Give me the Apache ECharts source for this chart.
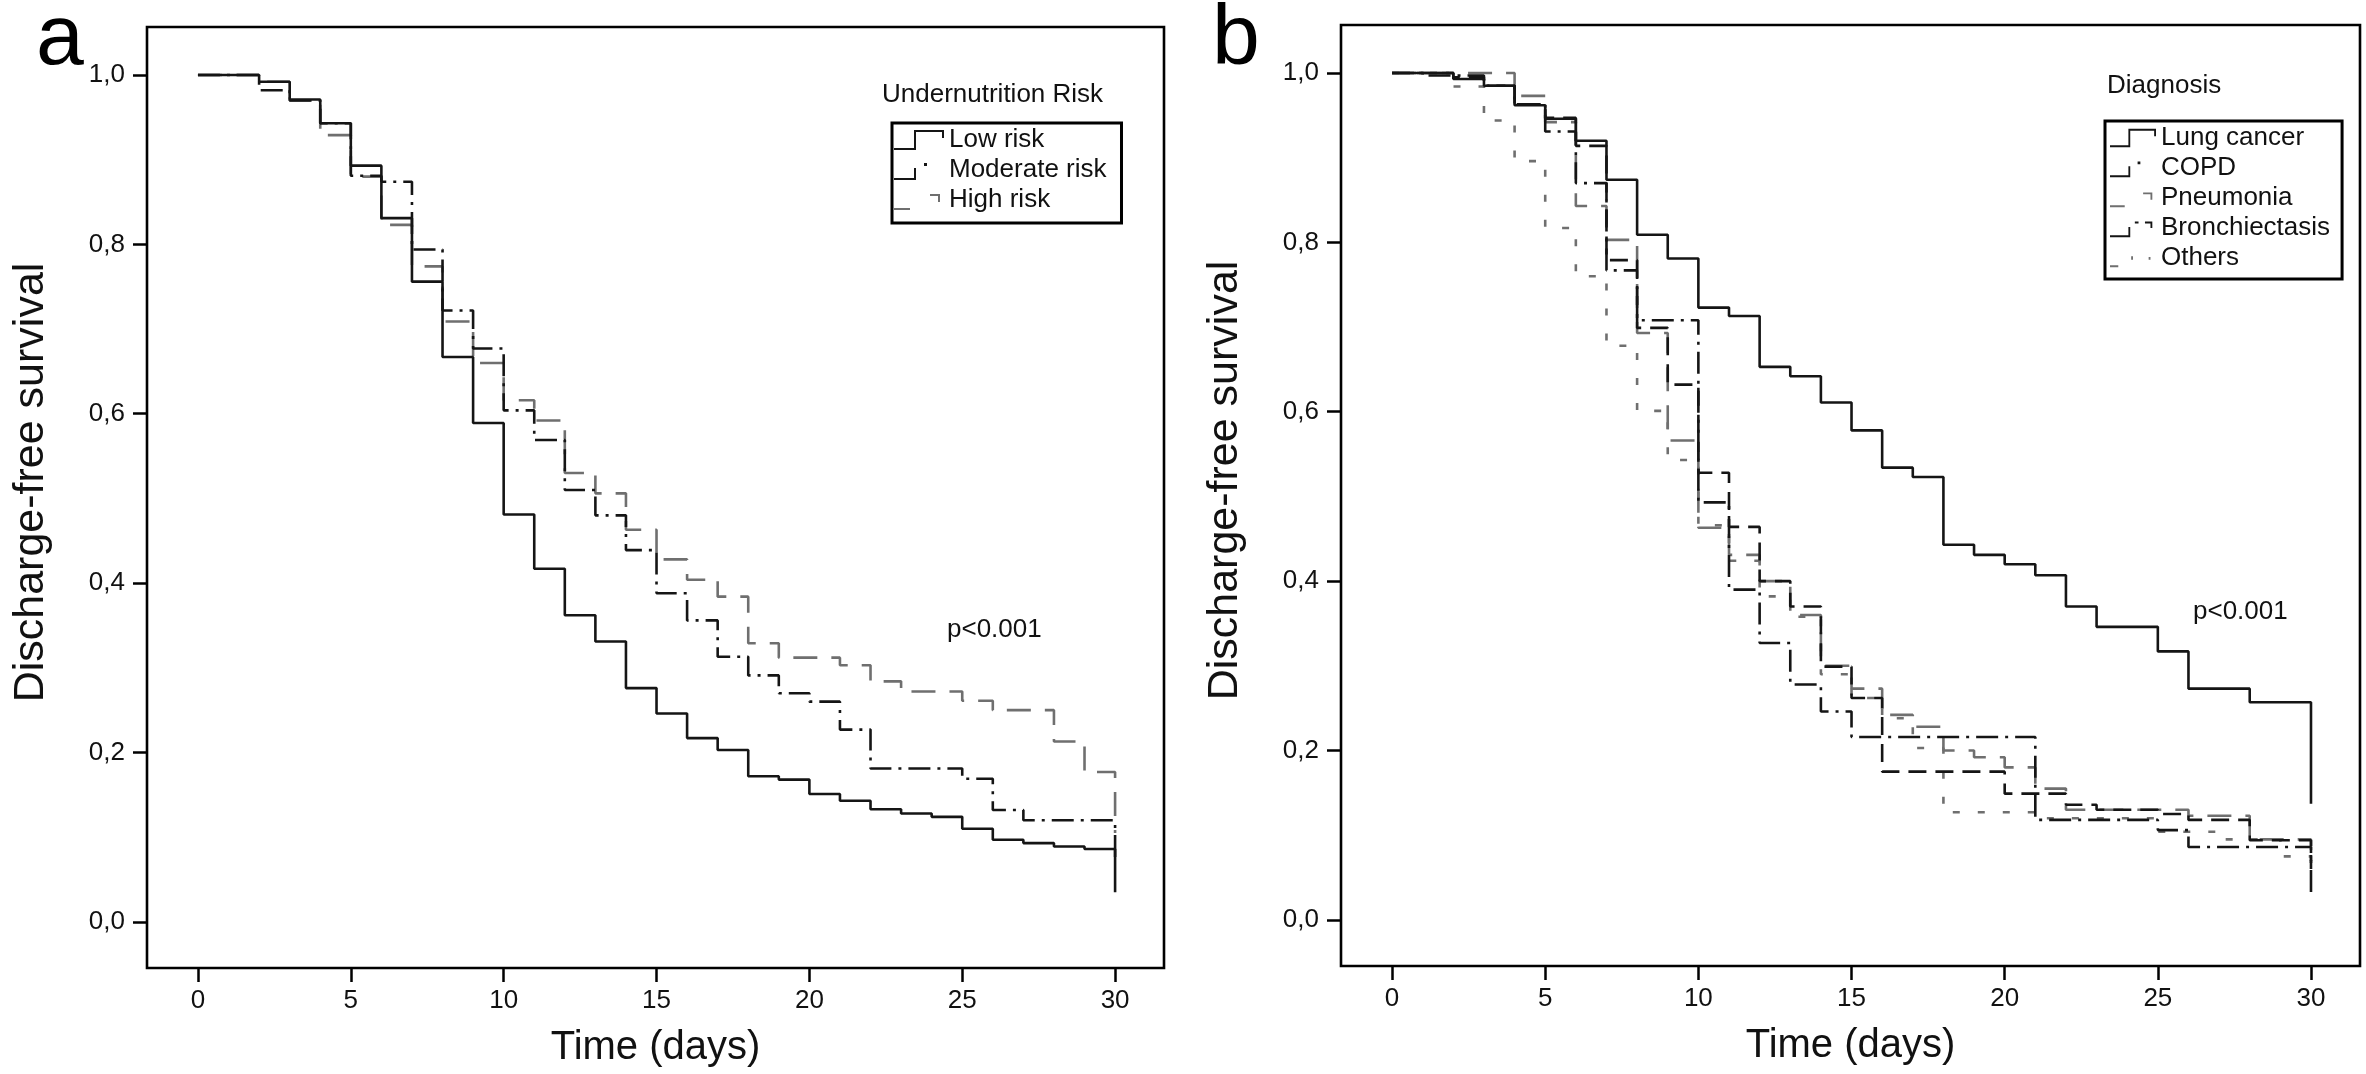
<!DOCTYPE html>
<html>
<head>
<meta charset="utf-8">
<script src="https://cdn.jsdelivr.net/npm/echarts@6/dist/echarts.min.js"></script>
<style>
html,body{margin:0;padding:0;background:#fff;}
#chart{width:2366px;height:1074px;}
</style>
</head>
<body>
<div id="chart"></div>
<script>
// ---------- tick labels ----------
const xTicks = [0, 5, 10, 15, 20, 25, 30];
const yTicks = [0, 0.2, 0.4, 0.6, 0.8, 1.0];

// ---------- panel a: Undernutrition Risk ----------
const riskNames = ['Low risk', 'Moderate risk', 'High risk'];
const dayLow = [0,2,3,4,5,6,7,8,9,10,11,12,13,14,15,16,17,18,19,20,21,22,23,24,25,26,27,28,29,30];
const survLow = [1,0.992,0.971,0.943,0.893,0.831,0.756,0.667,0.589,0.481,0.417,0.362,0.331,0.276,0.246,0.217,0.203,0.172,0.168,0.151,0.143,0.133,0.128,0.124,0.110,0.097,0.093,0.089,0.086,0.035];
const dayModerate = [0,2,3,4,5,6,7,8,9,10,11,12,13,14,15,16,17,18,19,20,21,22,25,26,27,30];
const survModerate = [1,0.982,0.970,0.943,0.881,0.874,0.794,0.722,0.677,0.604,0.569,0.510,0.480,0.439,0.388,0.356,0.313,0.291,0.270,0.260,0.227,0.181,0.169,0.132,0.120,0.070];
const dayHigh = [0,2,3,4,5,6,7,8,9,10,11,12,13,14,15,16,17,18,19,21,22,23,25,26,28,29,30];
const survHigh = [1,0.992,0.970,0.929,0.880,0.823,0.774,0.709,0.660,0.616,0.592,0.530,0.506,0.463,0.428,0.404,0.384,0.329,0.312,0.303,0.284,0.272,0.261,0.250,0.213,0.177,0.105];

// ---------- panel b: Diagnosis ----------
const diagNames = ['Lung cancer', 'COPD', 'Pneumonia', 'Bronchiectasis', 'Others'];
const dayLung = [0,2,3,4,5,6,7,8,9,10,11,12,13,14,15,16,17,18,19,20,21,22,23,25,26,28,30];
const survLung = [1,0.993,0.985,0.962,0.946,0.920,0.874,0.809,0.781,0.723,0.713,0.653,0.642,0.611,0.578,0.534,0.523,0.443,0.431,0.420,0.407,0.370,0.346,0.317,0.273,0.257,0.137];
const dayCopd = [0,1,3,4,5,6,7,8,10,11,12,13,14,15,21,25,26,30];
const survCopd = [1,0.997,0.985,0.963,0.931,0.870,0.767,0.708,0.493,0.390,0.327,0.278,0.246,0.216,0.118,0.106,0.086,0.026];
const dayPneumonia = [0,4,5,6,7,8,9,10,11,12,13,14,15,16,17,18,19,20,21,22,26,28,30];
const survPneumonia = [1,0.973,0.942,0.843,0.803,0.693,0.566,0.463,0.431,0.400,0.360,0.300,0.273,0.242,0.228,0.200,0.192,0.180,0.155,0.130,0.123,0.095,0.080];
const dayBronch = [0,2,3,4,5,6,7,8,9,10,11,12,13,14,15,16,20,22,23,25,26,28,30];
const survBronch = [1,0.995,0.985,0.963,0.947,0.914,0.779,0.699,0.632,0.528,0.464,0.400,0.370,0.299,0.262,0.175,0.149,0.136,0.130,0.125,0.118,0.094,0.060];
const dayOthers = [0,2,3,4,5,6,7,8,9,10,11,12,13,14,15,16,17,18,21,25,27,29,30];
const survOthers = [1,0.984,0.944,0.896,0.817,0.760,0.678,0.601,0.543,0.466,0.424,0.382,0.358,0.290,0.262,0.238,0.203,0.127,0.120,0.104,0.095,0.075,0.060];

// ---------- styling ----------
const FONT = 'Liberation Sans, Arial, Helvetica, sans-serif';
const BLACK = '#151515';
const GRAY = '#6f6f6f';
const DASHDOT = [22, 7, 3, 7];
const LONGDASH = [24, 14];
const MEDDASH = [18, 9];
const SHORTDASH = [7, 18];

// legend icons (step-shaped, SPSS-like); the leading moves fix the icon box to 50x20
const BOX = 'M0,0 M50,20 ';
const iconSolid = 'path://' + BOX + 'M0,18 L20,18 L20,0 L50,0 L50,8 L48,8 L48,2 L22,2 L22,20 L0,20 Z';
const iconDashDot = 'path://' + BOX + 'M0,18 L20,18 L20,8 L22,8 L22,20 L0,20 Z M30,3 L33,3 L33,6 L30,6 Z';
const iconLongDash = 'path://' + BOX + 'M0,18 L16,18 L16,20 L0,20 Z M36,4 L46,4 L46,12 L44,12 L44,6 L36,6 Z';
const iconMedDash = 'path://' + BOX + 'M0,18 L20,18 L20,9 L22,9 L22,20 L0,20 Z M27,3 L31,3 L31,5 L27,5 Z M38,3 L46,3 L46,10 L44,10 L44,5 L38,5 Z';
const iconShortDash = 'path://' + BOX + 'M0,18 L9,18 L9,20 L0,20 Z M23,8 L25,8 L25,12 L23,12 Z M42,9 L44,9 L44,12 L42,12 Z';

function km(days, surv) { return days.map((d, i) => [d, surv[i]]); }
function fmtY(v) { return v.toFixed(1).replace('.', ','); }

function kmSeries(name, days, surv, color, dash, axisIndex, z) {
  return {
    name: name,
    type: 'line',
    step: 'end',
    xAxisIndex: axisIndex,
    yAxisIndex: axisIndex,
    data: km(days, surv),
    symbol: 'none',
    color: color,
    itemStyle: { color: color },
    lineStyle: { color: color, width: 2.6, type: dash, cap: 'butt' },
    z: z,
    silent: true,
    animation: false
  };
}

function xAxisCfg(gridIndex) {
  return {
    type: 'value', gridIndex: gridIndex, position: 'bottom',
    min: -1.667, max: 31.6,
    axisLine: { show: false, onZero: false },
    splitLine: { show: false },
    axisTick: { show: true, inside: false, length: 14, customValues: xTicks, lineStyle: { color: '#000', width: 2.5 } },
    axisLabel: { show: true, customValues: xTicks, margin: 20, fontFamily: FONT, fontSize: 26, color: '#111' },
    name: 'Time (days)', nameLocation: 'middle', nameGap: 60,
    nameTextStyle: { fontFamily: FONT, fontSize: 40, color: '#111' }
  };
}
function yAxisCfg(gridIndex) {
  return {
    type: 'value', gridIndex: gridIndex, position: 'left',
    min: -0.0545, max: 1.0567,
    axisLine: { show: false, onZero: false },
    splitLine: { show: false },
    axisTick: { show: true, inside: false, length: 14, customValues: yTicks, lineStyle: { color: '#000', width: 2.5 } },
    axisLabel: { show: true, customValues: yTicks, margin: 22, formatter: fmtY, fontFamily: FONT, fontSize: 26, color: '#111' },
    name: 'Discharge-free survival', nameLocation: 'middle', nameGap: 94,
    nameTextStyle: { fontFamily: FONT, fontSize: 43, color: '#111', padding: [0, 0, 0, 30] }
  };
}

function legendCfg(names, icons, left, top, itemWidth, padding) {
  return {
    show: true, orient: 'vertical', left: left, top: top,
    data: names.map((n, i) => ({ name: n, icon: icons[i] })),
    itemWidth: itemWidth, itemHeight: 20, itemGap: 0,
    padding: padding,
    borderColor: '#000', borderWidth: 3, backgroundColor: '#fff',
    selectedMode: false,
    itemStyle: { borderWidth: 0 },
    textStyle: { fontFamily: FONT, fontSize: 26, color: '#111', lineHeight: 30 }
  };
}

const chart = echarts.init(document.getElementById('chart'), null, { renderer: 'canvas' });

const option = {
  backgroundColor: '#fff',
  animation: false,
  grid: [
    { left: 147, top: 27, width: 1017, height: 941, show: true, borderColor: '#000', borderWidth: 2.6, backgroundColor: 'transparent', containLabel: false },
    { left: 1341, top: 25, width: 1019, height: 941, show: true, borderColor: '#000', borderWidth: 2.6, backgroundColor: 'transparent', containLabel: false }
  ],
  xAxis: [xAxisCfg(0), xAxisCfg(1)],
  yAxis: [yAxisCfg(0), yAxisCfg(1)],
  legend: [
    legendCfg(riskNames, [iconSolid, iconDashDot, iconLongDash], 892, 123, 50, [2, 15, 8, 2]),
    legendCfg(diagNames, [iconSolid, iconDashDot, iconLongDash, iconMedDash, iconShortDash], 2105, 121, 46, [2, 12, 6, 5])
  ],
  series: [
    kmSeries(riskNames[2], dayHigh, survHigh, GRAY, LONGDASH, 0, 2),
    kmSeries(riskNames[1], dayModerate, survModerate, BLACK, DASHDOT, 0, 3),
    kmSeries(riskNames[0], dayLow, survLow, BLACK, 'solid', 0, 4),
    kmSeries(diagNames[4], dayOthers, survOthers, GRAY, SHORTDASH, 1, 2),
    kmSeries(diagNames[2], dayPneumonia, survPneumonia, GRAY, LONGDASH, 1, 2),
    kmSeries(diagNames[3], dayBronch, survBronch, BLACK, MEDDASH, 1, 3),
    kmSeries(diagNames[1], dayCopd, survCopd, BLACK, DASHDOT, 1, 3),
    kmSeries(diagNames[0], dayLung, survLung, BLACK, 'solid', 1, 4)
  ],
  graphic: [
    { type: 'text', left: 36, top: -3, style: { text: 'a', font: '86px ' + FONT, fill: '#000' } },
    { type: 'text', left: 1212, top: -3, style: { text: 'b', font: '86px ' + FONT, fill: '#000' } },
    { type: 'text', x: 882, y: 95, style: { text: 'Undernutrition Risk', font: '26px ' + FONT, fill: '#111', verticalAlign: 'middle' } },
    { type: 'text', x: 2107, y: 86, style: { text: 'Diagnosis', font: '26px ' + FONT, fill: '#111', verticalAlign: 'middle' } },
    { type: 'text', x: 947, y: 630, style: { text: 'p<0.001', font: '26px ' + FONT, fill: '#111', verticalAlign: 'middle' } },
    { type: 'text', x: 2193, y: 612, style: { text: 'p<0.001', font: '26px ' + FONT, fill: '#111', verticalAlign: 'middle' } }
  ]
};
chart.setOption(option);
</script>
</body>
</html>
